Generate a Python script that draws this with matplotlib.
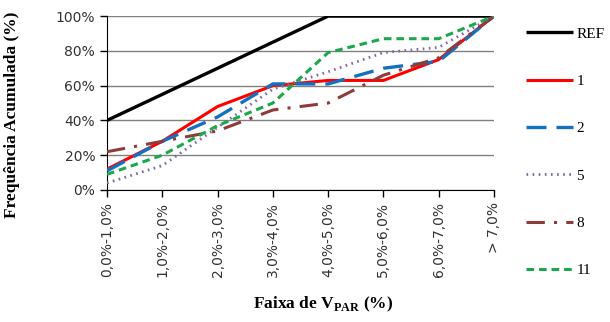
"""Cumulative frequency of V_PAR ranges per case."""

import matplotlib
matplotlib.use("Agg")
import matplotlib.pyplot as plt
from matplotlib.lines import Line2D

categories = ["0,0%-1,0%", "1,0%-2,0%", "2,0%-3,0%", "3,0%-4,0%",
              "4,0%-5,0%", "5,0%-6,0%", "6,0%-7,0%", "> 7,0%"]
ref = [40, 55, 70, 85, 100, 100, 100, 100]
case_1 = [12, 28, 48, 60, 63, 63, 75, 100]
case_2 = [11, 28, 42, 61, 61, 70, 74, 100]
case_5 = [4, 14, 36, 58, 68, 79, 82, 100]
case_8 = [22, 28, 34, 46, 50, 66, 76, 100]
case_11 = [9, 20, 37, 50, 79, 87, 87, 100]
y_ticks = [0, 20, 40, 60, 80, 100]

plt.rcParams["mathtext.fontset"] = "custom"
plt.rcParams["mathtext.bf"] = "Liberation Serif:bold"
plt.rcParams["mathtext.rm"] = "Liberation Serif"

fig = plt.figure(figsize=(6.1, 3.22), dpi=100)
ax = fig.add_axes([0.1754, 0.41, 0.6344, 0.54])

x = range(len(categories))
series = [
    ("REF", ref, dict(color="black", lw=2.4, ls="-")),
    ("1", case_1, dict(color="#ff0000", lw=2.2, ls="-")),
    ("2", case_2, dict(color="#1470c0", lw=2.4, ls=(0, (6, 3)))),
    ("5", case_5, dict(color="#7b6a9e", lw=2.0, ls=(0, (0.6, 1.6)))),
    ("8", case_8, dict(color="#8e3b3b", lw=2.2, ls=(0, (6, 3, 1, 3)))),
    ("11", case_11, dict(color="#1aa84c", lw=2.2, ls=(0, (2.5, 1.6)))),
]
handles = []
for label, vals, style in series:
    ax.plot(x, vals, solid_capstyle="butt", dash_capstyle="butt", zorder=3, **style)
    handles.append(Line2D([], [], solid_capstyle="butt", dash_capstyle="butt", **style))

ax.set_xlim(0, len(categories) - 1)
ax.set_ylim(0, 100)
ax.set_yticks(y_ticks)
ax.set_yticklabels([f"{v}%" for v in y_ticks], fontsize=10, color="#333333")
ax.set_xticks(list(x))
ax.set_xticklabels(categories, rotation=90, fontsize=10, color="#333333")
ax.yaxis.grid(True, color="#808080", lw=1)
ax.set_axisbelow(True)
for s in ["top", "right"]:
    ax.spines[s].set_visible(False)
ax.tick_params(axis="both", direction="out", length=5, width=1)

ax.set_ylabel("Frequência Acumulada (%)", fontsize=12.5, fontweight="bold",
              family="Liberation Serif")
ax.yaxis.set_label_coords(-0.225, 0.43)
ax.set_xlabel(r"Faixa de V$_{\mathbf{PAR}}$ (%)", fontsize=12.5, fontweight="bold",
              family="Liberation Serif")
ax.xaxis.set_label_coords(0.558, -0.6)

fig.legend(handles, [s[0] for s in series], loc="upper left",
           bbox_to_anchor=(0.852, 0.935), frameon=False,
           prop={"family": "Liberation Serif", "size": 11},
           handlelength=3.1, handletextpad=0.2, labelspacing=2.2, borderaxespad=0)

fig.savefig("out.png", dpi=100)
